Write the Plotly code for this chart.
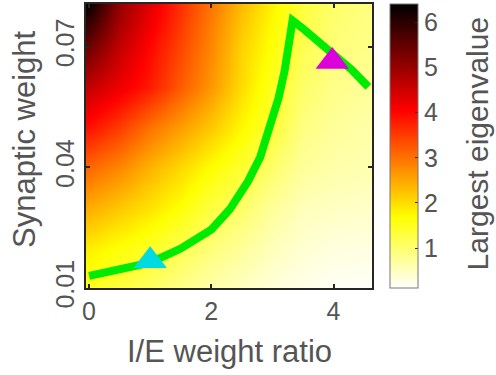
import plotly.graph_objects as go

# Heatmap grid (I/E weight ratio along x, synaptic weight along y)
ie_ratio = [0, 0.5, 1.0, 1.5, 2.0, 2.5, 3.0, 3.5, 4.0, 4.6]
syn_weight = [0.01, 0.02, 0.03, 0.04, 0.05, 0.06, 0.07, 0.08]
eig_row_001 = [1.50, 1.30, 1.10, 0.85, 0.65, 0.50, 0.35, 0.25, 0.18, 0.15]
eig_row_002 = [1.85, 1.65, 1.45, 1.20, 0.95, 0.75, 0.55, 0.40, 0.33, 0.30]
eig_row_003 = [2.45, 2.20, 1.95, 1.65, 1.30, 1.05, 0.75, 0.55, 0.50, 0.45]
eig_row_004 = [3.10, 2.80, 2.40, 2.05, 1.70, 1.40, 1.05, 0.75, 0.65, 0.60]
eig_row_005 = [3.90, 3.50, 3.00, 2.60, 2.20, 1.75, 1.35, 0.90, 0.75, 0.65]
eig_row_006 = [4.60, 4.20, 3.80, 3.20, 2.65, 2.00, 1.50, 1.05, 0.85, 0.75]
eig_row_007 = [5.40, 4.60, 4.00, 3.40, 2.80, 2.10, 1.65, 1.20, 0.95, 0.85]
eig_row_008 = [6.30, 5.00, 4.30, 3.60, 2.95, 2.30, 1.80, 1.30, 1.05, 0.90]
eigenvalues = [eig_row_001, eig_row_002, eig_row_003, eig_row_004,
               eig_row_005, eig_row_006, eig_row_007, eig_row_008]

# Green boundary curve
curve_x = [0, 0.5, 1.0, 1.5, 2.0, 2.3, 2.6, 2.8, 3.0, 3.1, 3.2, 3.28, 3.33,
           3.5, 3.7, 4.0, 4.3, 4.57]
curve_y = [0.0130, 0.0145, 0.0163, 0.0198, 0.0245, 0.0295, 0.0365, 0.0425,
           0.0515, 0.0572, 0.0640, 0.0722, 0.0765, 0.0745, 0.0720, 0.0682,
           0.0642, 0.0600]

# Marker points
cyan_pt = (1.0, 0.0168)
magenta_pt = (3.98, 0.0663)

colorbar_ticks = [1, 2, 3, 4, 5, 6]
x_ticks = [0, 2, 4]
y_ticks = [0.01, 0.04, 0.07]

FONT = "Liberation Sans, Arial, sans-serif"
TXT = "#555555"
AX = "#262626"

hot_r = [[0.0, "rgb(255,255,255)"], [0.25, "rgb(255,255,0)"],
         [0.625, "rgb(255,0,0)"], [1.0, "rgb(0,0,0)"]]

fig = go.Figure()
fig.add_trace(go.Heatmap(
    x=ie_ratio, y=syn_weight, z=eigenvalues, zsmooth="best",
    colorscale=hot_r, zmin=0.12, zmax=6.4,
    colorbar=dict(
        x=1.063, xanchor="left", xref="paper", y=0, yanchor="bottom",
        len=1, lenmode="fraction", thickness=28, thicknessmode="pixels",
        outlinecolor="#777777", outlinewidth=1,
        tickvals=colorbar_ticks, ticks="inside", ticklen=3, tickwidth=1,
        tickcolor=AX, tickprefix="\u2005\u2009",
        tickfont=dict(family=FONT, size=25, color=TXT),
        ypad=0, xpad=0,
    ),
    showscale=True,
    hoverinfo="skip",
))
fig.add_trace(go.Scatter(
    x=curve_x, y=curve_y, mode="lines",
    line=dict(color="rgb(0,235,0)", width=8), showlegend=False,
    hoverinfo="skip",
))
fig.add_trace(go.Scatter(
    x=[cyan_pt[0]], y=[cyan_pt[1]], mode="markers",
    marker=dict(symbol="triangle-up", size=29, color="rgb(0,218,225)",
                line=dict(width=0)), showlegend=False, hoverinfo="skip",
))
fig.add_trace(go.Scatter(
    x=[magenta_pt[0]], y=[magenta_pt[1]], mode="markers",
    marker=dict(symbol="triangle-up", size=29, color="rgb(220,0,220)",
                line=dict(width=0)), showlegend=False, hoverinfo="skip",
))

fig.update_layout(
    width=496, height=375,
    margin=dict(l=86, r=124, t=2, b=87),
    paper_bgcolor="white", plot_bgcolor="white",
    showlegend=False,
    font=dict(family=FONT, color=TXT),
    xaxis=dict(range=[-0.05, 4.63], tickvals=x_ticks, ticks="inside",
               ticklen=4, tickwidth=2, tickcolor=AX, showline=True,
               linecolor=AX, linewidth=2, mirror="allticks", showgrid=False,
               zeroline=False, tickfont=dict(family=FONT, size=25, color=TXT)),
    yaxis=dict(range=[0.01, 0.0806], tickvals=y_ticks, ticktext=["0.01", "0.04", "0.07"],
               ticks="inside", ticklen=4, tickwidth=2, tickcolor=AX,
               showline=True, linecolor=AX, linewidth=2, mirror="allticks",
               showgrid=False, zeroline=False, tickangle=-90,
               tickfont=dict(family=FONT, size=25, color=TXT)),
    annotations=[
        dict(text="I/E weight ratio", xref="paper", yref="paper", x=0.5,
             y=-0.224, xanchor="center", yanchor="middle", showarrow=False,
             font=dict(family=FONT, size=31, color=TXT)),
        dict(text="Synaptic weight", xref="paper", yref="paper", x=-0.213,
             y=0.525, xanchor="center", yanchor="middle", showarrow=False,
             textangle=-90, font=dict(family=FONT, size=31, color=TXT)),
        dict(text="Largest eigenvalue", xref="paper", yref="paper", x=1.368,
             y=0.51, xanchor="center", yanchor="middle", showarrow=False,
             textangle=-90, borderpad=0,
             font=dict(family=FONT, size=30, color=TXT)),
    ],
)

fig.write_html(
    "out.html",
    config={"displayModeBar": False, "staticPlot": True},
    post_script="document.body.style.margin='0';document.body.style.overflow='hidden';",
)
